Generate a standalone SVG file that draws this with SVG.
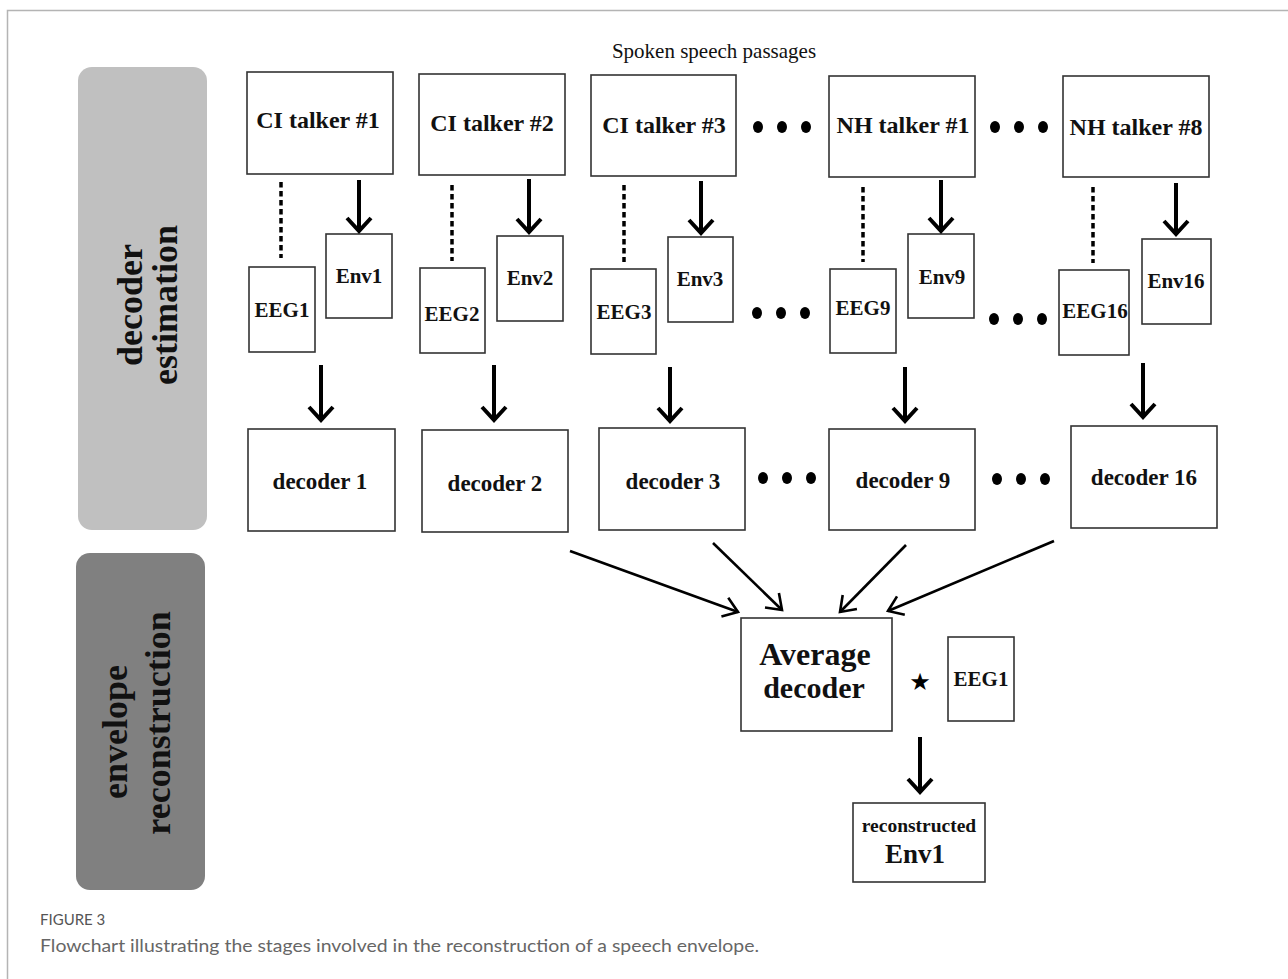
<svg xmlns="http://www.w3.org/2000/svg" width="1288" height="979" viewBox="0 0 1288 979">
<defs>
<style>
.box{fill:#fff;stroke:#333;stroke-width:1.6}
.t{font-family:"Liberation Serif","Times New Roman",serif;font-weight:bold;fill:#111;text-anchor:middle}
.arr{stroke:#000;stroke-width:4;fill:none;marker-end:url(#ah)}
.arr2{stroke:#000;stroke-width:2.6;fill:none;marker-end:url(#ah2)}
.dash{stroke:#000;stroke-width:3.5;stroke-dasharray:5.5 3.5;fill:none}
.dot{fill:#000}
</style>
<marker id="ah" markerUnits="userSpaceOnUse" markerWidth="40" markerHeight="40" viewBox="-20 -20 40 40" refX="0" refY="0" orient="auto" overflow="visible">
<path d="M-13,-12 L0,0 L-13,12" fill="none" stroke="#000" stroke-width="4"/>
</marker>
<marker id="ah2" markerUnits="userSpaceOnUse" markerWidth="40" markerHeight="40" viewBox="-20 -20 40 40" refX="0" refY="0" orient="auto" overflow="visible">
<path d="M-14,-10 L0,0 L-14,10" fill="none" stroke="#000" stroke-width="2.6"/>
</marker>
</defs>
<rect width="1288" height="979" fill="#fff"/>
<path d="M7.5,979 V10.5 H1288" fill="none" stroke="#b4b4b4" stroke-width="1.5"/>

<g id="stage-decoder-estimation">
<rect x="78" y="67" width="129" height="463" rx="14" fill="#c0c0c0"/>
<text class="t" font-size="36" transform="translate(142,305) rotate(-90)">decoder</text>
<text class="t" font-size="36" transform="translate(177,305) rotate(-90)">estimation</text>
</g>
<g id="stage-envelope-reconstruction">
<rect x="76" y="553" width="129" height="337" rx="14" fill="#808080"/>
<text class="t" font-size="36" transform="translate(127,732) rotate(-90)">envelope</text>
<text class="t" font-size="36" transform="translate(170,723) rotate(-90)">reconstruction</text>
</g>

<text x="714" y="58" font-family="Liberation Serif, Times New Roman, serif" font-size="21" fill="#111" text-anchor="middle">Spoken speech passages</text>

<g id="talker-ci1"><rect class="box" x="247" y="72" width="146" height="102"/><text class="t" font-size="24" x="318" y="128">CI talker #1</text></g>
<g id="talker-ci2"><rect class="box" x="419" y="74" width="146" height="101"/><text class="t" font-size="24" x="492" y="131">CI talker #2</text></g>
<g id="talker-ci3"><rect class="box" x="591" y="75" width="145" height="101"/><text class="t" font-size="24" x="664" y="133">CI talker #3</text></g>
<g id="talker-nh1"><rect class="box" x="829" y="76" width="146" height="101"/><text class="t" font-size="24" x="903" y="133">NH talker #1</text></g>
<g id="talker-nh8"><rect class="box" x="1063" y="76" width="146" height="101"/><text class="t" font-size="24" x="1136" y="135">NH talker #8</text></g>

<g id="eeg1"><rect class="box" x="249" y="267" width="66" height="85"/><text class="t" font-size="21" x="282" y="317">EEG1</text></g>
<g id="env1"><rect class="box" x="326" y="234" width="66" height="84"/><text class="t" font-size="21" x="359" y="283">Env1</text></g>
<g id="eeg2"><rect class="box" x="420" y="268" width="65" height="85"/><text class="t" font-size="21" x="452" y="321">EEG2</text></g>
<g id="env2"><rect class="box" x="497" y="236" width="66" height="85"/><text class="t" font-size="21" x="530" y="285">Env2</text></g>
<g id="eeg3"><rect class="box" x="591" y="269" width="65" height="85"/><text class="t" font-size="21" x="624" y="319">EEG3</text></g>
<g id="env3"><rect class="box" x="668" y="237" width="65" height="85"/><text class="t" font-size="21" x="700" y="286">Env3</text></g>
<g id="eeg9"><rect class="box" x="830" y="269" width="66" height="84"/><text class="t" font-size="21" x="863" y="315">EEG9</text></g>
<g id="env9"><rect class="box" x="908" y="234" width="66" height="84"/><text class="t" font-size="21" x="942" y="284">Env9</text></g>
<g id="eeg16"><rect class="box" x="1059" y="270" width="70" height="85"/><text class="t" font-size="21" x="1095" y="318">EEG16</text></g>
<g id="env16"><rect class="box" x="1142" y="239" width="69" height="85"/><text class="t" font-size="21" x="1176" y="288">Env16</text></g>

<g id="decoder1"><rect class="box" x="248" y="429" width="147" height="102"/><text class="t" font-size="23" x="320" y="489">decoder 1</text></g>
<g id="decoder2"><rect class="box" x="422" y="430" width="146" height="102"/><text class="t" font-size="23" x="495" y="491">decoder 2</text></g>
<g id="decoder3"><rect class="box" x="599" y="428" width="146" height="102"/><text class="t" font-size="23" x="673" y="489">decoder 3</text></g>
<g id="decoder9"><rect class="box" x="829" y="429" width="146" height="101"/><text class="t" font-size="23" x="903" y="488">decoder 9</text></g>
<g id="decoder16"><rect class="box" x="1071" y="426" width="146" height="102"/><text class="t" font-size="23" x="1144" y="485">decoder 16</text></g>

<g id="average-decoder"><rect class="box" x="741" y="618" width="151" height="113"/><text class="t" font-size="32" x="815" y="665">Average</text><text class="t" font-size="30" x="814" y="698">decoder</text></g>
<text x="920" y="690" font-family="DejaVu Sans, sans-serif" font-size="24" fill="#000" text-anchor="middle">★</text>
<g id="eeg1-test"><rect class="box" x="948" y="637" width="66" height="84"/><text class="t" font-size="21" x="981" y="686">EEG1</text></g>
<g id="reconstructed-env1"><rect class="box" x="853" y="803" width="132" height="79"/><text class="t" font-size="19.5" x="919" y="832">reconstructed</text><text class="t" font-size="27" x="915" y="863">Env1</text></g>

<g id="ellipses">
<ellipse class="dot" cx="758" cy="127" rx="5" ry="6"/><ellipse class="dot" cx="782" cy="127" rx="5" ry="6"/><ellipse class="dot" cx="806" cy="127" rx="5" ry="6"/>
<ellipse class="dot" cx="995" cy="127" rx="5" ry="6"/><ellipse class="dot" cx="1019" cy="127" rx="5" ry="6"/><ellipse class="dot" cx="1043" cy="127" rx="5" ry="6"/>
<ellipse class="dot" cx="757" cy="313" rx="5" ry="6"/><ellipse class="dot" cx="781" cy="313" rx="5" ry="6"/><ellipse class="dot" cx="805" cy="313" rx="5" ry="6"/>
<ellipse class="dot" cx="994" cy="319" rx="5" ry="6"/><ellipse class="dot" cx="1018" cy="319" rx="5" ry="6"/><ellipse class="dot" cx="1042" cy="319" rx="5" ry="6"/>
<ellipse class="dot" cx="763" cy="478" rx="5" ry="6"/><ellipse class="dot" cx="787" cy="478" rx="5" ry="6"/><ellipse class="dot" cx="811" cy="478" rx="5" ry="6"/>
<ellipse class="dot" cx="997" cy="479" rx="5" ry="6"/><ellipse class="dot" cx="1021" cy="479" rx="5" ry="6"/><ellipse class="dot" cx="1045" cy="479" rx="5" ry="6"/>
</g>

<g id="connectors">
<line class="dash" x1="281" y1="182" x2="281" y2="258"/>
<line class="dash" x1="452" y1="185" x2="452" y2="261"/>
<line class="dash" x1="624" y1="185" x2="624" y2="262"/>
<line class="dash" x1="863" y1="187" x2="863" y2="262"/>
<line class="dash" x1="1093" y1="187" x2="1093" y2="263"/>
<line class="arr" x1="359" y1="180" x2="359" y2="231"/>
<line class="arr" x1="529" y1="179" x2="529" y2="232"/>
<line class="arr" x1="701" y1="181" x2="701" y2="233"/>
<line class="arr" x1="941" y1="180" x2="941" y2="231"/>
<line class="arr" x1="1176" y1="183" x2="1176" y2="234"/>
<line class="arr" x1="321" y1="365" x2="321" y2="420"/>
<line class="arr" x1="494" y1="365" x2="494" y2="420"/>
<line class="arr" x1="670" y1="367" x2="670" y2="421"/>
<line class="arr" x1="905" y1="367" x2="905" y2="421"/>
<line class="arr" x1="1143" y1="363" x2="1143" y2="417"/>
<line class="arr2" x1="570" y1="551" x2="738" y2="612"/>
<line class="arr2" x1="713" y1="543" x2="782" y2="610"/>
<line class="arr2" x1="906" y1="545" x2="840" y2="612"/>
<line class="arr2" x1="1054" y1="541" x2="888" y2="611"/>
<line class="arr" x1="920" y1="737" x2="920" y2="792"/>
</g>

<text x="40" y="925" font-family="Lato, 'Open Sans', sans-serif" font-size="15" fill="#555">FIGURE 3</text>
<text x="40" y="952" font-family="Lato, 'Open Sans', sans-serif" font-size="18" fill="#666" textLength="719" lengthAdjust="spacingAndGlyphs">Flowchart illustrating the stages involved in the reconstruction of a speech envelope.</text>
</svg>
